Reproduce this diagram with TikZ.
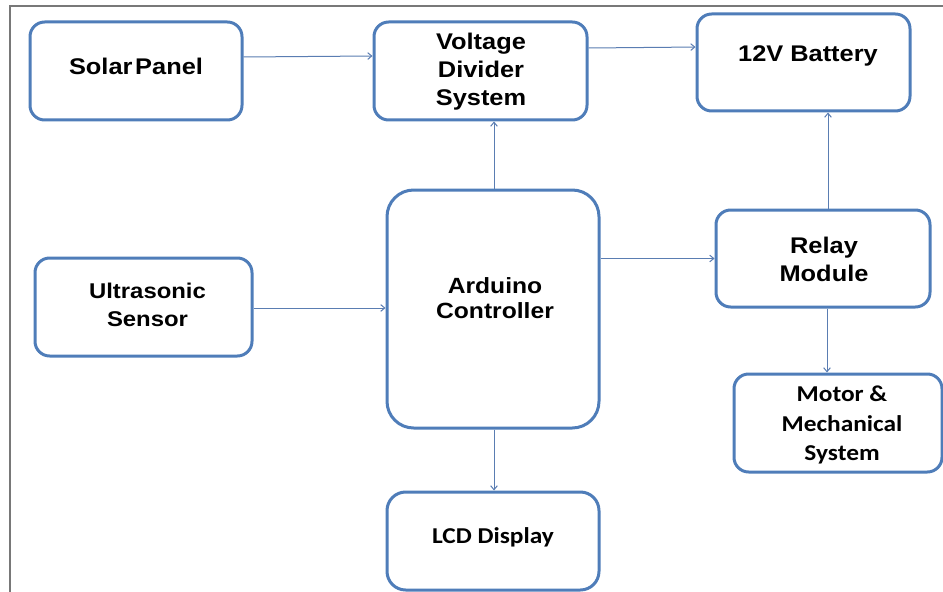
\documentclass[tikz,border=0pt]{standalone}
\usepackage{fontspec}
\newfontfamily\arialf[FakeStretch=1.12]{Liberation Sans}
\newfontfamily\calibf[FakeStretch=1.12]{Carlito}
\usetikzlibrary{arrows.meta}
\definecolor{boxblue}{RGB}{79,125,185}
\definecolor{arrblue}{RGB}{90,125,178}
\definecolor{framegray}{RGB}{120,120,120}
\tikzset{
  blk/.style={draw=boxblue, line width=2.25pt, fill=white, rounded corners=11pt, inner sep=0pt},
  txt/.style={align=center, inner sep=0pt, text=black},
  ar/.style={font=\arialf\bfseries\fontsize{17}{21}\selectfont},
  cb/.style={font=\calibf\bfseries\fontsize{17}{22}\selectfont},
  conn/.style={draw=arrblue, line width=0.75pt, -{Straight Barb[length=3pt,width=5pt]}},
}
\begin{document}
\begin{tikzpicture}[x=0.75pt,y=-0.75pt]
\useasboundingbox[fill=white] (0,0) rectangle (943,592);
\draw[framegray, line width=1.5pt] (9.5,592) -- (9.5,6) -- (943,6);
% boxes
\node[blk, minimum width=159pt, minimum height=73.5pt] (solar) at (136,71) {};
\node[blk, minimum width=159.75pt, minimum height=73.5pt] (volt) at (480.5,71) {};
\node[blk, minimum width=159.75pt, minimum height=72.75pt] (batt) at (803.5,62.5) {};
\node[blk, minimum width=159pt, minimum height=178.5pt, rounded corners=20pt] (ard) at (493,309) {};
\node[blk, minimum width=162.75pt, minimum height=73.5pt] (ultra) at (143.5,307) {};
\node[blk, minimum width=160.5pt, minimum height=72.75pt] (relay) at (823,258.5) {};
\node[blk, minimum width=156pt, minimum height=73.5pt] (motor) at (838,423) {};
\node[blk, minimum width=159pt, minimum height=73.5pt, rounded corners=14pt] (lcd) at (493,541) {};
% texts
\node[txt, ar] (solarT) at (136,66) {\spaceskip=0.12em Solar Panel};
\node[txt, ar] (voltT) at (481,72) {Voltage\\Divider\\System};
\node[txt, ar] (battT) at (808,56) {12V Battery};
\node[txt, font=\arialf\bfseries\fontsize{16.5}{19}\selectfont] (ardT) at (495,298) {Arduino\\Controller};
\node[txt, font=\arialf\bfseries\fontsize{16}{20.5}\selectfont] (ultraT) at (147.5,305) {Ultrasonic\\Sensor};
\node[txt, ar] (relayT) at (824,259) {Relay\\Module};
\node[txt, cb] (motorT) at (842,425) {Motor \&\\Mechanical\\System};
\node[txt, cb] (lcdT) at (493,537) {LCD Display};
% connectors
\draw[conn] ([yshift=10.5pt]solar.east) -- ([yshift=11.25pt]volt.west);
\draw[conn] ([yshift=17.25pt]volt.east) -- ([yshift=11.6pt]batt.west);
\draw[conn] ([xshift=0.75pt]ard.north) -- ([xshift=0.75pt]ard.north |- volt.south);
\draw[conn] ([xshift=3.75pt]relay.north) -- ([xshift=3.75pt]relay.north |- batt.south);
\draw[conn] (ultra.east |- 0,308) -- (ard.west |- 0,308);
\draw[conn] (ard.east |- relay.west) -- (relay.west);
\draw[conn] ([xshift=3pt]relay.south) -- ([xshift=3pt]relay.south |- motor.north);
\draw[conn] ([xshift=0.75pt]ard.south) -- ([xshift=0.75pt]ard.south |- lcd.north);
\end{tikzpicture}
\end{document}
